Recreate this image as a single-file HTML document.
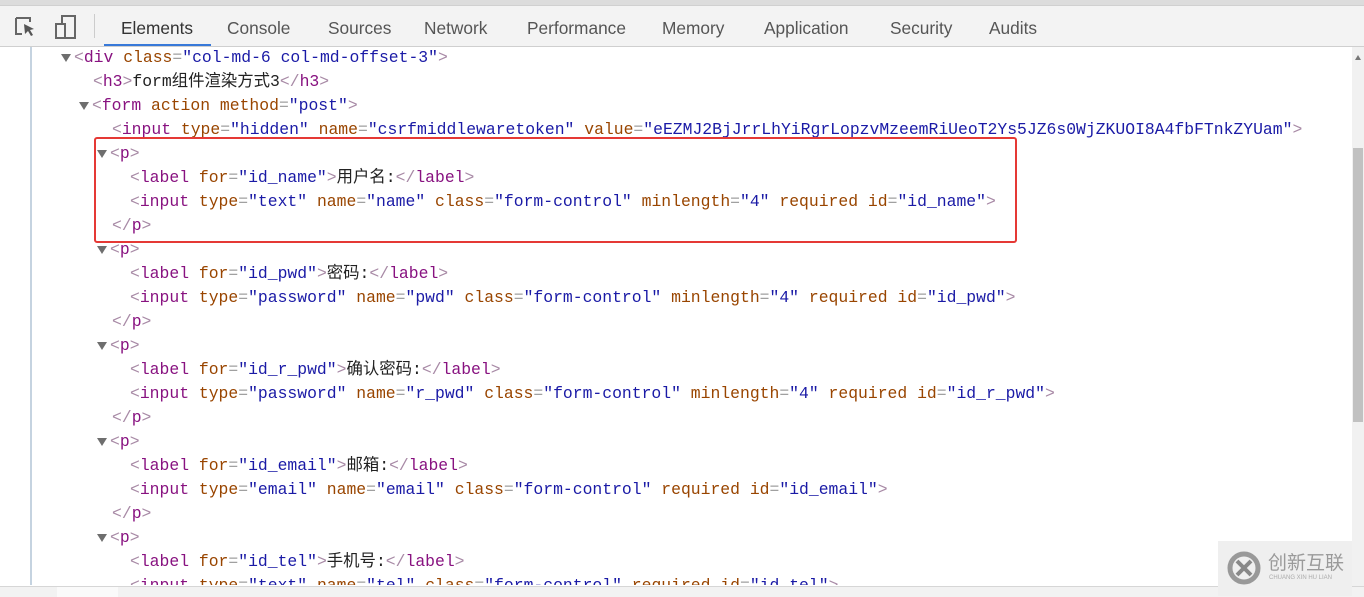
<!DOCTYPE html>
<html><head><meta charset="utf-8"><style>
body{margin:0;width:1364px;height:596px;overflow:hidden;background:#fff;position:relative;font-family:"Liberation Sans","Noto Sans CJK SC",sans-serif}
.top{position:absolute;left:0;top:0;width:1364px;height:5px;background:#dcdcdc}
.tb{position:absolute;left:0;top:5px;width:1364px;height:40px;background:#f3f3f3;border-top:1px solid #d0d0d0;border-bottom:1px solid #cfcfcf}
.tab{position:absolute;top:12px;font-size:17.3px;color:#555}
.ul{position:absolute;left:104px;top:38px;width:107px;height:2px;background:#3879d9}
.code{position:absolute;left:0;top:48px;width:1350px;height:537px;overflow:hidden}
.ln{position:absolute;white-space:pre;font-family:"Liberation Mono","Noto Sans CJK SC",monospace;font-size:16.4px;line-height:20px;color:#222}
.t{color:#881280}.a{color:#994500}.v{color:#1a1aa6}.g{color:#a0a0a0}.b{color:#a88aa6}
.tri{position:absolute;width:0;height:0;border-left:5px solid transparent;border-right:5px solid transparent;border-top:8px solid #6e6e6e}
.vl{position:absolute;left:30px;top:47px;width:2px;height:538px;background:#c5d3e0}
.red{position:absolute;left:94px;top:137px;width:919px;height:102px;border:2px solid #e53935;border-radius:3px}
.sb{position:absolute;left:1352px;top:47px;width:12px;height:541px;background:#f1f1f1}
.th{position:absolute;left:1353px;top:148px;width:10px;height:274px;background:#c1c1c1}
.bot{position:absolute;left:0;top:586px;width:1364px;height:10px;background:#f2f2f2;border-top:1px solid #d6d6d6}
.wm{position:absolute;left:1218px;top:541px;width:134px;height:55px;background:#efefef}
</style></head><body>
<div class="top"></div>
<div class="tb">
<svg style="position:absolute;left:14px;top:10px" width="24" height="22"><path d="M2 2h14v4M2 2v16h6" fill="none" stroke="#666" stroke-width="2"/><path d="M10 8l10 5-4 1 3 5-2 1-3-5-3 3z" fill="#555"/></svg>
<svg style="position:absolute;left:54px;top:8px" width="24" height="26"><rect x="8" y="2" width="13" height="22" fill="none" stroke="#666" stroke-width="2"/><rect x="2" y="10" width="9" height="14" fill="#f3f3f3" stroke="#666" stroke-width="2"/></svg>
<div style="position:absolute;left:94px;top:8px;width:1px;height:24px;background:#ccc"></div>
<span class="tab" style="left:121px;color:#333">Elements</span>
<span class="tab" style="left:227px">Console</span>
<span class="tab" style="left:328px">Sources</span>
<span class="tab" style="left:424px">Network</span>
<span class="tab" style="left:527px">Performance</span>
<span class="tab" style="left:662px">Memory</span>
<span class="tab" style="left:764px">Application</span>
<span class="tab" style="left:890px">Security</span>
<span class="tab" style="left:989px">Audits</span>
<div class="ul"></div>
</div>
<div class="vl"></div>
<div class="tri" style="left:61px;top:54px"></div>
<div class="tri" style="left:79px;top:102px"></div>
<div class="tri" style="left:97px;top:150px"></div>
<div class="tri" style="left:97px;top:246px"></div>
<div class="tri" style="left:97px;top:342px"></div>
<div class="tri" style="left:97px;top:438px"></div>
<div class="tri" style="left:97px;top:534px"></div>
<div class="code">
<div class="ln" style="left:74px;top:0px"><span class="b">&lt;</span><span class="t">div</span> <span class="a">class</span><span class="g">=</span><span class="v">"col-md-6 col-md-offset-3"</span><span class="b">&gt;</span></div>
<div class="ln" style="left:93px;top:24px"><span class="b">&lt;</span><span class="t">h3</span><span class="b">&gt;</span>form组件渲染方式3<span class="b">&lt;/</span><span class="t">h3</span><span class="b">&gt;</span></div>
<div class="ln" style="left:92px;top:48px"><span class="b">&lt;</span><span class="t">form</span> <span class="a">action</span> <span class="a">method</span><span class="g">=</span><span class="v">"post"</span><span class="b">&gt;</span></div>
<div class="ln" style="left:112px;top:72px"><span class="b">&lt;</span><span class="t">input</span> <span class="a">type</span><span class="g">=</span><span class="v">"hidden"</span> <span class="a">name</span><span class="g">=</span><span class="v">"csrfmiddlewaretoken"</span> <span class="a">value</span><span class="g">=</span><span class="v">"eEZMJ2BjJrrLhYiRgrLopzvMzeemRiUeoT2Ys5JZ6s0WjZKUOI8A4fbFTnkZYUam"</span><span class="b">&gt;</span></div>
<div class="ln" style="left:110px;top:96px"><span class="b">&lt;</span><span class="t">p</span><span class="b">&gt;</span></div>
<div class="ln" style="left:130px;top:120px"><span class="b">&lt;</span><span class="t">label</span> <span class="a">for</span><span class="g">=</span><span class="v">"id_name"</span><span class="b">&gt;</span>用户名:<span class="b">&lt;/</span><span class="t">label</span><span class="b">&gt;</span></div>
<div class="ln" style="left:130px;top:144px"><span class="b">&lt;</span><span class="t">input</span> <span class="a">type</span><span class="g">=</span><span class="v">"text"</span> <span class="a">name</span><span class="g">=</span><span class="v">"name"</span> <span class="a">class</span><span class="g">=</span><span class="v">"form-control"</span> <span class="a">minlength</span><span class="g">=</span><span class="v">"4"</span> <span class="a">required</span> <span class="a">id</span><span class="g">=</span><span class="v">"id_name"</span><span class="b">&gt;</span></div>
<div class="ln" style="left:112px;top:168px"><span class="b">&lt;/</span><span class="t">p</span><span class="b">&gt;</span></div>
<div class="ln" style="left:110px;top:192px"><span class="b">&lt;</span><span class="t">p</span><span class="b">&gt;</span></div>
<div class="ln" style="left:130px;top:216px"><span class="b">&lt;</span><span class="t">label</span> <span class="a">for</span><span class="g">=</span><span class="v">"id_pwd"</span><span class="b">&gt;</span>密码:<span class="b">&lt;/</span><span class="t">label</span><span class="b">&gt;</span></div>
<div class="ln" style="left:130px;top:240px"><span class="b">&lt;</span><span class="t">input</span> <span class="a">type</span><span class="g">=</span><span class="v">"password"</span> <span class="a">name</span><span class="g">=</span><span class="v">"pwd"</span> <span class="a">class</span><span class="g">=</span><span class="v">"form-control"</span> <span class="a">minlength</span><span class="g">=</span><span class="v">"4"</span> <span class="a">required</span> <span class="a">id</span><span class="g">=</span><span class="v">"id_pwd"</span><span class="b">&gt;</span></div>
<div class="ln" style="left:112px;top:264px"><span class="b">&lt;/</span><span class="t">p</span><span class="b">&gt;</span></div>
<div class="ln" style="left:110px;top:288px"><span class="b">&lt;</span><span class="t">p</span><span class="b">&gt;</span></div>
<div class="ln" style="left:130px;top:312px"><span class="b">&lt;</span><span class="t">label</span> <span class="a">for</span><span class="g">=</span><span class="v">"id_r_pwd"</span><span class="b">&gt;</span>确认密码:<span class="b">&lt;/</span><span class="t">label</span><span class="b">&gt;</span></div>
<div class="ln" style="left:130px;top:336px"><span class="b">&lt;</span><span class="t">input</span> <span class="a">type</span><span class="g">=</span><span class="v">"password"</span> <span class="a">name</span><span class="g">=</span><span class="v">"r_pwd"</span> <span class="a">class</span><span class="g">=</span><span class="v">"form-control"</span> <span class="a">minlength</span><span class="g">=</span><span class="v">"4"</span> <span class="a">required</span> <span class="a">id</span><span class="g">=</span><span class="v">"id_r_pwd"</span><span class="b">&gt;</span></div>
<div class="ln" style="left:112px;top:360px"><span class="b">&lt;/</span><span class="t">p</span><span class="b">&gt;</span></div>
<div class="ln" style="left:110px;top:384px"><span class="b">&lt;</span><span class="t">p</span><span class="b">&gt;</span></div>
<div class="ln" style="left:130px;top:408px"><span class="b">&lt;</span><span class="t">label</span> <span class="a">for</span><span class="g">=</span><span class="v">"id_email"</span><span class="b">&gt;</span>邮箱:<span class="b">&lt;/</span><span class="t">label</span><span class="b">&gt;</span></div>
<div class="ln" style="left:130px;top:432px"><span class="b">&lt;</span><span class="t">input</span> <span class="a">type</span><span class="g">=</span><span class="v">"email"</span> <span class="a">name</span><span class="g">=</span><span class="v">"email"</span> <span class="a">class</span><span class="g">=</span><span class="v">"form-control"</span> <span class="a">required</span> <span class="a">id</span><span class="g">=</span><span class="v">"id_email"</span><span class="b">&gt;</span></div>
<div class="ln" style="left:112px;top:456px"><span class="b">&lt;/</span><span class="t">p</span><span class="b">&gt;</span></div>
<div class="ln" style="left:110px;top:480px"><span class="b">&lt;</span><span class="t">p</span><span class="b">&gt;</span></div>
<div class="ln" style="left:130px;top:504px"><span class="b">&lt;</span><span class="t">label</span> <span class="a">for</span><span class="g">=</span><span class="v">"id_tel"</span><span class="b">&gt;</span>手机号:<span class="b">&lt;/</span><span class="t">label</span><span class="b">&gt;</span></div>
<div class="ln" style="left:130px;top:528px"><span class="b">&lt;</span><span class="t">input</span> <span class="a">type</span><span class="g">=</span><span class="v">"text"</span> <span class="a">name</span><span class="g">=</span><span class="v">"tel"</span> <span class="a">class</span><span class="g">=</span><span class="v">"form-control"</span> <span class="a">required</span> <span class="a">id</span><span class="g">=</span><span class="v">"id_tel"</span><span class="b">&gt;</span></div>
</div>
<div class="red"></div>
<div class="sb"><div style="position:absolute;left:3px;top:8px;border-left:3px solid transparent;border-right:3px solid transparent;border-bottom:5px solid #777"></div></div>
<div class="th"></div>
<div class="bot"><div style="position:absolute;left:57px;top:0;width:61px;height:10px;background:#fafafa"></div></div>
<div class="wm">
<svg style="position:absolute;left:9px;top:10px" width="34" height="34"><circle cx="17" cy="17" r="14" fill="none" stroke="#999" stroke-width="5"/><path d="M10 10l14 14M24 10l-14 14" stroke="#888" stroke-width="4"/></svg>
<span style="position:absolute;left:50px;top:10px;font-size:19px;color:#9a9a9a;font-family:'Noto Sans CJK SC',sans-serif;line-height:22px">创新互联</span>
<span style="position:absolute;left:51px;top:34px;font-size:6px;color:#aaa">CHUANG XIN HU LIAN</span>
</div>
</body></html>
